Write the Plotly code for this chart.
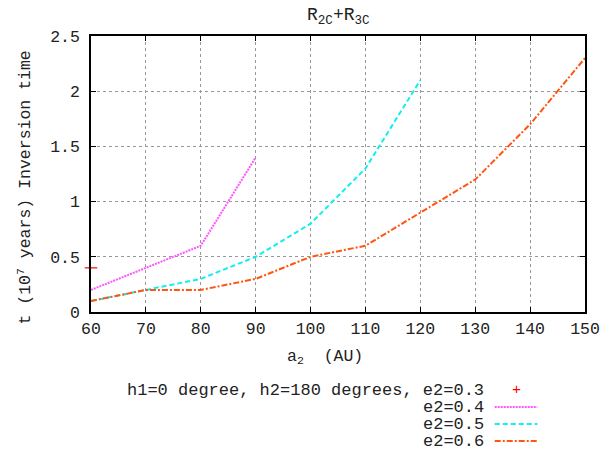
import plotly.graph_objects as go

x_04 = [60, 70, 80, 90]
y_04 = [0.2, 0.4, 0.6, 1.4]
x_05 = [60, 70, 80, 90, 100, 110, 120]
y_05 = [0.1, 0.2, 0.3, 0.5, 0.8, 1.3, 2.1]
x_06 = [60, 70, 80, 90, 100, 110, 120, 130, 140, 150]
y_06 = [0.1, 0.2, 0.2, 0.3, 0.5, 0.6, 0.9, 1.2, 1.7, 2.3]
x_03 = [60]
y_03 = [0.4]

legend_labels = ["h1=0 degree, h2=180 degrees, e2=0.3", "e2=0.4", "e2=0.5", "e2=0.6"]
c03, c04, c05, c06 = "#ff0000", "#ff55ff", "#11eeee", "#ff5511"
d04, d05, d06 = "2px,1px", "5px,3px", "6px,2px,2px,2px"

FONT = "Liberation Mono"
FS = 16.5
TXT = "#222"
W, H = 612, 452
L, R, T, B = 91, 589, 36, 312

fig = go.Figure()
fig.add_trace(go.Scatter(x=x_04, y=y_04, mode="lines", line=dict(color=c04, width=2, dash=d04), showlegend=False))
fig.add_trace(go.Scatter(x=x_05, y=y_05, mode="lines", line=dict(color=c05, width=2, dash=d05), showlegend=False))
fig.add_trace(go.Scatter(x=x_06, y=y_06, mode="lines", line=dict(color=c06, width=2, dash=d06), showlegend=False))
fig.add_trace(go.Scatter(x=x_03, y=y_03, mode="markers", cliponaxis=False,
                         marker=dict(symbol="line-ew", size=9, line=dict(color=c03, width=1.2)), showlegend=False))

def px(xx):
    return (xx - L) / (R - L)

def py(yy):
    return (B - yy) / (B - T)

# legend
rows = [390, 407, 424, 441]
styles = [None, (c04, d04), (c05, d05), (c06, d06)]
for lab, yy in zip(legend_labels, rows):
    fig.add_annotation(x=px(488), y=py(yy), xref="paper", yref="paper", text=lab, showarrow=False,
                       xanchor="right", yanchor="middle", height=16, borderpad=0,
                       font=dict(family=FONT, size=17, color=TXT))
for yy, st in zip(rows, styles):
    if st is None:
        fig.add_annotation(x=px(520), y=py(yy), xref="paper", yref="paper", text="+", showarrow=False,
                           xanchor="center", yanchor="middle", height=14, borderpad=0,
                           font=dict(family=FONT, size=15, color=c03))
    else:
        fig.add_shape(type="line", xref="paper", yref="paper", x0=px(498), x1=px(541), y0=py(yy), y1=py(yy),
                      line=dict(color=st[0], width=2, dash=st[1]))

# axis titles
fig.add_annotation(x=px(327), y=py(357), xref="paper", yref="paper", text="a<sub>2</sub>\u00a0\u00a0(AU)", showarrow=False,
                   xanchor="center", yanchor="middle", font=dict(family=FONT, size=FS, color=TXT))
fig.add_annotation(x=px(24), y=py(188), xref="paper", yref="paper", text="t (10<sup>7</sup> years) Inversion time",
                   showarrow=False, textangle=-90, xanchor="center", yanchor="middle", font=dict(family=FONT, size=FS, color=TXT))
# title
fig.add_annotation(x=px(340), y=py(17), xref="paper", yref="paper", text="R<sub>2C</sub>+R<sub>3C</sub>", showarrow=False,
                   xanchor="center", yanchor="middle", font=dict(family=FONT, size=18, color=TXT))

axis_common = dict(showline=True, mirror="ticks", linecolor="black", linewidth=1.5, ticks="inside", ticklen=5,
                   tickcolor="black", showgrid=True, gridcolor="#999", griddash="dot", gridwidth=1,
                   zeroline=False, tickfont=dict(family=FONT, size=FS, color=TXT))
fig.update_xaxes(range=[60, 150], dtick=10, tick0=60, **axis_common)
fig.update_yaxes(range=[0, 2.5], dtick=0.5, tick0=0, ticklabelstandoff=6, **axis_common)
fig.update_layout(width=W, height=H, margin=dict(l=L, r=W - R, t=T, b=H - B), plot_bgcolor="white", paper_bgcolor="white")
fig.write_html("out.html", config={"displayModeBar": False}, post_script="document.body.style.margin='0px';")
